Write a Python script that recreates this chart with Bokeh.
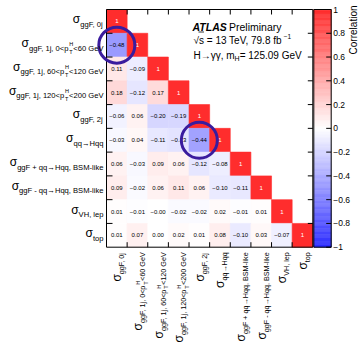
import math
import numpy as np
from bokeh.plotting import figure
from bokeh.models import Range1d, ColumnDataSource, LinearColorMapper
from bokeh.transform import transform
from bokeh.core.properties import value, field
from bokeh.embed import file_html
from bokeh.resources import INLINE

# ---------------- data ----------------
categories = [
    "ggF, 0j",
    "ggF, 1j, 0<p_T^H<60 GeV",
    "ggF, 1j, 60<p_T^H<120 GeV",
    "ggF, 1j, 120<p_T^H<200 GeV",
    "ggF, 2j",
    "qq→Hqq",
    "ggF + qq→Hqq, BSM-like",
    "ggF - qq→Hqq, BSM-like",
    "VH, lep",
    "top",
]
corr_rows = [
    [1.0],
    [-0.48, 1.0],
    [0.11, -0.09, 1.0],
    [0.18, -0.12, 0.17, 1.0],
    [-0.06, 0.06, -0.20, -0.19, 1.0],
    [-0.03, 0.04, -0.11, -0.13, -0.44, 1.0],
    [0.06, -0.03, 0.09, 0.06, -0.12, -0.08, 1.0],
    [0.09, -0.02, 0.06, 0.11, 0.06, -0.10, -0.11, 1.0],
    [0.01, -0.01, -0.00, -0.02, -0.02, 0.02, -0.01, 0.01, 1.0],
    [0.01, 0.07, 0.00, 0.02, 0.01, 0.08, -0.10, 0.03, -0.07, 1.0],
]
highlighted_cells = [(1, 0), (5, 4)]  # (row, column)
cbar_ticks = [-1.0, -0.8, -0.6, -0.4, -0.2, 0.0, 0.2, 0.4, 0.6, 0.8, 1.0]
cbar_tick_labels = ["−1", "−0.8", "−0.6", "−0.4", "−0.2", "0", "0.2", "0.4", "0.6", "0.8", "1"]
cbar_title = "Correlation"

n = len(categories)

# ---------------- layout (canvas px) ----------------
W, H = 358, 345
FL, FR, FT, FB = 106.0, 312.3, 9.0, 246.7
cw = (FR - FL) / n
ch = (FB - FT) / n


def X(px):
    return (px - FL) / cw


def Y(py):
    return (FB - py) / ch


FONT = "Liberation Sans"

# approximate Liberation Sans advance widths (em/1000)
WID = {' ': 278, ',': 278, '-': 333, '.': 278, '<': 584, '=': 584, '+': 584,
       'A': 667, 'B': 667, 'C': 722, 'F': 611, 'G': 778, 'H': 722, 'L': 556,
       'M': 833, 'P': 667, 'S': 667, 'T': 611, 'V': 667, 'a': 556, 'b': 556,
       'e': 556, 'f': 278, 'g': 556, 'h': 556, 'i': 222, 'j': 222, 'k': 500,
       'l': 222, 'm': 833, 'n': 556, 'o': 556, 'p': 556, 'q': 556, 'r': 333,
       's': 500, 't': 278, 'u': 556, 'y': 500, 'σ': 617, 'γ': 500, '→': 1000,
       '√': 549, '−': 584}


def tw(s, size):
    return sum(WID.get(ch_, 556) for ch_ in s) / 1000.0 * size


p = figure(width=W, height=H, x_range=Range1d(X(0), X(W)), y_range=Range1d(Y(H), Y(0)),
           output_backend="svg", toolbar_location=None, x_axis_location=None,
           y_axis_location=None, min_border=0, title=None, outline_line_color=None,
           background_fill_color="white", border_fill_color="white")
p.grid.visible = False

# ---------------- colour map ----------------
c_blue = np.array([45, 45, 255])
c_red = np.array([255, 45, 45])
c_white = np.array([255, 255, 255])
pal = []
for t in np.linspace(-1, 1, 255):
    c = c_white + (-t) * (c_blue - c_white) if t < 0 else c_white + t * (c_red - c_white)
    pal.append("#%02x%02x%02x" % tuple(int(round(v)) for v in c))
mapper = LinearColorMapper(palette=pal, low=-1, high=1)

# ---------------- cells ----------------
cx, cy, cv, ct, cc = [], [], [], [], []
for r, row in enumerate(corr_rows):
    for c, v in enumerate(row):
        cx.append(c + 0.5)
        cy.append(n - 0.5 - r)
        cv.append(v)
        ct.append("1" if v == 1 else f"{v:.2f}".replace("-", "−"))
        cc.append("white" if v == 1 else "black")
cells = ColumnDataSource(dict(x=cx, y=cy, v=cv, t=ct, tc=cc))
p.rect('x', 'y', width=1, height=1, source=cells, fill_color=transform('v', mapper),
       line_color=transform('v', mapper), line_width=0.6)
p.text('x', 'y', text='t', source=cells, text_color=field('tc'), text_align='center',
       text_baseline='middle', text_font_size='6px', text_font=value(FONT))

# frame and ticks
p.quad(left=[0], right=[n], bottom=[0], top=[n], fill_color=None, line_color="black", line_width=1)
bnd = list(range(1, n))
tlx_l, tlx_r, tly = 6 / cw, 5 / cw, 5 / ch
sx0, sy0, sx1, sy1 = [], [], [], []
for b in bnd:
    sx0 += [0, n - tlx_r, b, b]
    sx1 += [tlx_l, n, b, b]
    sy0 += [b, b, 0, n - tly]
    sy1 += [b, b, tly, n]
p.segment(x0=sx0, y0=sy0, x1=sx1, y1=sy1, line_color="black", line_width=1)

# highlight circles
p.scatter(x=[c + 0.5 for r, c in highlighted_cells], y=[n - 0.5 - r for r, c in highlighted_cells],
          marker="circle", size=36, fill_color=None, line_color="#3a1c9e", line_width=3)

# ---------------- axis labels (sigma with subscripts) ----------------
SIG, SS = 12.0, 5.5


def label_pieces(name, sub):
    """list of (text, size, kind, advance), laid out from the sigma"""
    pieces = [("σ", SIG, "sig", tw("σ", SIG))]
    if "p_T^H" in name:
        pre, post = name.split("p_T^H")
        pre = pre + "p"
        pieces.append((pre, sub, "sub", tw(pre, sub)))
        pieces.append(("H", SS, "sup", 0.0))
        pieces.append(("T", SS, "subsub", tw("H", SS)))
        pieces.append((post, sub, "sub", tw(post, sub)))
    else:
        pieces.append((name, sub, "sub", tw(name, sub)))
    return pieces


lx, ly, ltxt, lsize, lxo, lyo = [], [], [], [], [], []
bx, by, btxt, bsize, bxo, byo = [], [], [], [], [], []
row_shift = {"sig": -2.0, "sub": 3.0, "sup": -1.5, "subsub": 6.4}
col_shift = {"sig": 0.5, "sub": 5.0, "sup": 0.5, "subsub": 8.4}
RIGHT_END = 103.0    # x of row-label end
COL_GAP = 5.0        # px below frame for column-label end
for i, name in enumerate(categories):
    pcs = label_pieces(name, 7.6)
    total = sum(a for _, _, _, a in pcs)
    pos = 0.0
    for txt, size, kind, adv in pcs:
        lx.append(0.0)
        ly.append(n - 0.5 - i)
        ltxt.append(txt)
        lsize.append(f"{size}px")
        lxo.append(RIGHT_END - total + pos - FL)
        lyo.append(row_shift[kind])
        pos += adv
    pcs = label_pieces(name, 7.2)
    total = sum(a for _, _, _, a in pcs)
    pos = 0.0
    for txt, size, kind, adv in pcs:
        bx.append(i + 0.5)
        by.append(0.0)
        btxt.append(txt)
        bsize.append(f"{size}px")
        bxo.append(col_shift[kind])
        byo.append(COL_GAP + (total - pos))
        pos += adv

p.text('x', 'y', text='t', source=ColumnDataSource(dict(x=lx, y=ly, t=ltxt, s=lsize, xo=lxo, yo=lyo)),
       text_font_size=field('s'), x_offset=field('xo'), y_offset=field('yo'),
       text_align='left', text_baseline='alphabetic', text_font=value(FONT), text_color="black")
p.text('x', 'y', text='t', source=ColumnDataSource(dict(x=bx, y=by, t=btxt, s=bsize, xo=bxo, yo=byo)),
       text_font_size=field('s'), x_offset=field('xo'), y_offset=field('yo'), angle=math.pi / 2,
       text_align='left', text_baseline='alphabetic', text_font=value(FONT), text_color="black")

# ---------------- colour bar ----------------
CBL, CBR = 313.3, 330.7
edges = np.linspace(-1, 1, 201)
mids = (edges[:-1] + edges[1:]) / 2
cb = ColumnDataSource(dict(b=(edges[:-1] + 1) / 2 * n, t=(edges[1:] + 1) / 2 * n, v=mids))
p.quad(left=X(CBL), right=X(CBR), bottom='b', top='t', source=cb,
       fill_color=transform('v', mapper), line_color=transform('v', mapper), line_width=0.5)
p.quad(left=[X(CBL)], right=[X(CBR)], bottom=[0], top=[n], fill_color=None, line_color="black", line_width=1)
ty = [(v + 1) / 2 * n for v in cbar_ticks]
p.segment(x0=[X(CBR - 5)] * len(ty), x1=[X(CBR)] * len(ty), y0=ty, y1=ty, line_color="black", line_width=1)
p.text(x=[X(CBR + 2)] * len(ty), y=ty, text=cbar_tick_labels, text_align='left', text_baseline='middle',
       text_font_size='8.5px', text_font=value(FONT), text_color="black")
p.text(x=[X(352.5)], y=[Y(5)], text=[cbar_title], angle=math.pi / 2, text_align='right',
       text_baseline='alphabetic', text_font_size='10px', text_font=value(FONT), text_color="black")

# ---------------- header text ----------------
HX = 192.0
p.text(x=[X(HX)], y=[Y(26)], text=["ATLAS"], text_font_style="bold italic", text_font_size="10.5px",
       text_font=value(FONT), text_baseline='alphabetic', text_align='left')
p.text(x=[X(HX + 36.5)], y=[Y(26)], text=["Preliminary"], text_font_size="10.5px",
       text_font=value(FONT), text_baseline='alphabetic', text_align='left')
line2 = "√s = 13 TeV, 79.8 fb"
p.text(x=[X(HX + 1)], y=[Y(40)], text=[line2], text_font_size="10px",
       text_font=value(FONT), text_baseline='alphabetic', text_align='left')
p.text(x=[X(HX + 1 + tw(line2, 10))], y=[Y(35.5)], text=["−1"], text_font_size="6.5px",
       text_font=value(FONT), text_baseline='alphabetic', text_align='left')
p.segment(x0=[X(HX + 1 + tw("√", 10) - 0.5)], x1=[X(HX + 1 + tw("√s", 10))], y0=[Y(31.5)], y1=[Y(31.5)],
          line_color="black", line_width=0.8)
l3a, l3b, l3c = "H→γγ, m", "H", "= 125.09 GeV"
p.text(x=[X(HX + 1)], y=[Y(55)], text=[l3a], text_font_size="10px",
       text_font=value(FONT), text_baseline='alphabetic', text_align='left')
p.text(x=[X(HX + 1 + tw(l3a, 10))], y=[Y(57.5)], text=[l3b], text_font_size="7px",
       text_font=value(FONT), text_baseline='alphabetic', text_align='left')
p.text(x=[X(HX + 1 + tw(l3a, 10) + tw(l3b, 7))], y=[Y(55)], text=[l3c], text_font_size="10px",
       text_font=value(FONT), text_baseline='alphabetic', text_align='left')

open("out.html", "w").write(file_html(p, INLINE))
